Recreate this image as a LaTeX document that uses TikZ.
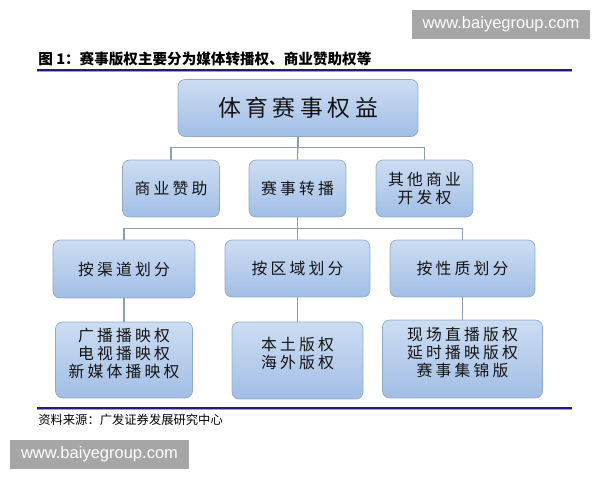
\documentclass[tikz,border=0pt]{standalone}
\usepackage{fontspec}
\usepackage{tikz}
\setmainfont{Noto Sans CJK SC}
\newfontfamily\boxfont[LetterSpace=20]{Noto Sans CJK SC}
\newfontfamily\wmfont{Liberation Sans}
\definecolor{boxtop}{HTML}{CCDDF2}
\definecolor{boxbot}{HTML}{A2BEE5}
\definecolor{boxline}{HTML}{8FA8C8}
\definecolor{linkgray}{HTML}{8C9DB2}
\definecolor{rulenavy}{HTML}{221C78}
\definecolor{rulelilac}{HTML}{A892E6}
\definecolor{markgray}{HTML}{A6A6A6}

\begin{document}
\begin{tikzpicture}[x=0.02cm, y=-0.02cm,
    box/.style={draw=boxline, rounded corners=4pt, top color=boxtop, bottom color=boxbot,
      inner sep=0pt, align=center, text=black!92, font=\boxfont\fontsize{9}{10.2}\selectfont},
    link/.style={draw=linkgray, line width=0.7pt},
    wmbox/.style={fill=markgray, text=white, inner sep=0pt, minimum height=0.58cm,
      font=\wmfont\fontsize{9.4}{11}\selectfont}]
  \useasboundingbox (0,0) rectangle (600,480);

  \node[wmbox, minimum width=3.56cm] (wmtop) at (501,24.5) {www.baiyegroup.com};
  \node[anchor=west, inner sep=0pt, font=\bfseries\fontsize{8.3}{9}\selectfont] (title)
    at (38,59) {图\ 1：赛事版权主要分为媒体转播权、商业赞助权等};
  \draw[rulelilac, line width=0.9pt] (37,71.5) -- (572,71.5);
  \draw[rulenavy, line width=1.1pt] (37,70) -- (572,70);

  \node[box, minimum width=4.8cm, minimum height=1.14cm,
    font=\boxfont\fontsize{13}{15}\selectfont] (root) at (298,108) {体育赛事权益};

  \node[box, minimum width=1.94cm, minimum height=1.14cm] (sponsor) at (171,188.5) {商业赞助};
  \node[box, minimum width=1.94cm, minimum height=1.14cm] (broadcast) at (297.5,188.5) {赛事转播};
  \node[box, minimum width=1.94cm, minimum height=1.14cm] (other) at (424.5,188.5) {其他商业\\开发权};

  \node[box, minimum width=2.84cm, minimum height=1.16cm] (channel) at (124,269) {按渠道划分};
  \node[box, minimum width=2.9cm, minimum height=1.14cm] (region) at (297.5,268.5) {按区域划分};
  \node[box, minimum width=2.9cm, minimum height=1.14cm] (nature) at (462.5,268.5) {按性质划分};

  \node[box, minimum width=2.74cm, minimum height=1.52cm] (chanlist) at (124,360)
    {广播播映权\\电视播映权\\新媒体播映权\\[-2pt]};
  \node[box, minimum width=2.62cm, minimum height=1.54cm] (reglist) at (297.5,360.5)
    {本土版权\\海外版权\\[-2pt]};
  \node[box, minimum width=3.2cm, minimum height=1.56cm] (natlist) at (462.5,359)
    {现场直播版权\\延时播映版权\\赛事集锦版\\[-2pt]};

  \draw[link] (root.south) -- ++(0,11) -| (sponsor.north);
  \draw[link] (root.south) -- ++(0,11) -| (other.north);
  \draw[link] (root.south) -- (broadcast.north);
  \draw[link] (broadcast.south) -- ++(0,11) -| (channel.north);
  \draw[link] (broadcast.south) -- ++(0,11) -| (nature.north);
  \draw[link] (broadcast.south) -- (region.north);
  \draw[link] (channel.south) -- (chanlist.north);
  \draw[link] (region.south) -- (reglist.north);
  \draw[link] (nature.south) -- (natlist.north);

  \draw[rulelilac, line width=0.9pt] (37,409.5) -- (572,409.5);
  \draw[rulenavy, line width=1.1pt] (37,408) -- (572,408);
  \node[anchor=west, inner sep=0pt, font=\fontsize{7}{8}\selectfont] (source)
    at (38,420) {资料来源：广发证券发展研究中心};
  \node[wmbox, minimum width=3.58cm] (wmbottom) at (99.5,454.5) {www.baiyegroup.com};
\end{tikzpicture}
\end{document}
